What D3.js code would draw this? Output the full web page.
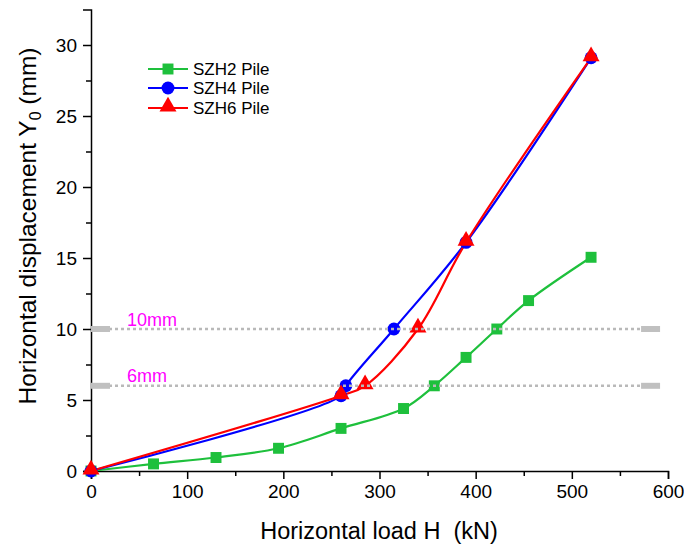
<!DOCTYPE html>
<html><head><meta charset="utf-8">
<script src="https://cdn.jsdelivr.net/npm/d3@7"></script>
<style>body{margin:0;background:#fff;}svg{display:block;font-family:"Liberation Sans",Arial,sans-serif;}</style>
</head><body><svg id="c" width="684" height="546"></svg>
<script>
const szh2Load = [0, 65, 130, 195, 260, 325, 357, 390, 422, 455, 520];
const szh2Disp = [0, 0.5, 0.95, 1.6, 3.0, 4.4, 6.0, 8.0, 10.0, 12.0, 15.05];
const szh4Load = [0, 260, 265, 315, 390, 520];
const szh4Disp = [0, 5.3, 6.0, 10.0, 16.1, 29.1];
const szh6Load = [0, 260, 285, 340, 390, 520];
const szh6Disp = [0, 5.3, 6.0, 10.0, 16.1, 29.1];
const seriesNames = ["SZH2 Pile", "SZH4 Pile", "SZH6 Pile"];
const xTicks = [0, 100, 200, 300, 400, 500, 600];
const yTicks = [0, 5, 10, 15, 20, 25, 30];
const limitValues = [10, 6];
const limitLabels = ["10mm", "6mm"];

const svg = d3.select("#c");
const x = d3.scaleLinear().domain([0, 600]).range([91, 668]);
const y = d3.scaleLinear().domain([0, 32.5]).range([471, 9.5]);

const colors = ["#1ec03c", "#0000ff", "#ff0000"];
const symbols = [d3.symbolSquare, d3.symbolCircle, d3.symbolTriangle];
const symSizes = [120, 130, 125];

// axes
const xAxis = d3.axisBottom(x).tickValues(xTicks).tickSize(8).tickPadding(6).tickFormat(d3.format("d"));
const xMinor = d3.axisBottom(x).tickValues(d3.range(50, 600, 100)).tickSize(5).tickFormat("");
const yAxis = d3.axisLeft(y).tickValues(yTicks).tickSize(8).tickPadding(6).tickFormat(d3.format("d"));
const yMinor = d3.axisLeft(y).tickValues(d3.range(2.5, 32.5, 5)).tickSize(5).tickFormat("");

function styleAxis(g){
  g.select(".domain").attr("stroke","#000").attr("stroke-width",1.5);
  g.selectAll(".tick line").attr("stroke","#000").attr("stroke-width",1.5);
  g.selectAll(".tick text").attr("fill","#000").style("font-size","19px").style("font-family","Liberation Sans, Arial, sans-serif");
}
const gx = svg.append("g").attr("transform","translate(0,471)").call(xAxis); styleAxis(gx);
const gxm = svg.append("g").attr("transform","translate(0,471)").call(xMinor); styleAxis(gxm);
gxm.select(".domain").remove();
const gy = svg.append("g").attr("transform","translate(91,0)").call(yAxis); styleAxis(gy);
const gym = svg.append("g").attr("transform","translate(91,0)").call(yMinor); styleAxis(gym);
gym.select(".domain").remove();

// axis titles
svg.append("text").attr("x", 379).attr("y", 539).attr("text-anchor","middle")
  .style("font-size","23.5px").style("white-space","pre").attr("fill","#000").text("Horizontal load H  (kN)");
const yt = svg.append("text").attr("transform","translate(36,226) rotate(-90)").attr("text-anchor","middle")
  .style("font-size","24.5px").attr("fill","#000");
yt.append("tspan").text("Horizontal displacement Y");
yt.append("tspan").attr("dy", 5).style("font-size","16px").text("0");
yt.append("tspan").attr("dy", -5).text(" (mm)");

// series
const data = [
  szh2Load.map((d,i)=>[d, szh2Disp[i]]),
  szh4Load.map((d,i)=>[d, szh4Disp[i]]),
  szh6Load.map((d,i)=>[d, szh6Disp[i]])
];
const line = d3.line().x(d=>x(d[0])).y(d=>y(d[1])).curve(d3.curveCatmullRom.alpha(0.5));
data.forEach((ser, k)=>{
  svg.append("path").attr("d", line(ser)).attr("fill","none").attr("stroke",colors[k]).attr("stroke-width",2.2);
});
data.forEach((ser, k)=>{
  svg.append("g").selectAll("path").data(ser).join("path")
    .attr("transform", d=>`translate(${x(d[0])},${y(d[1]) + (k===2?-1.5:0)})`)
    .attr("d", d3.symbol().type(symbols[k]).size(symSizes[k]))
    .attr("fill", colors[k]);
});

// limit lines
limitValues.forEach((v,i)=>{
  const yy = y(v);
  svg.append("line").attr("x1", x(0)).attr("x2", x(590)).attr("y1", yy).attr("y2", yy)
    .attr("stroke","#b9b9b9").attr("stroke-width",2.5).attr("stroke-dasharray","3,3");
  svg.append("rect").attr("x", x(0)).attr("y", yy-3).attr("width", 19).attr("height", 6).attr("fill","#c0c0c0");
  svg.append("rect").attr("x", x(572)).attr("y", yy-3).attr("width", 19).attr("height", 6).attr("fill","#c0c0c0");
  svg.append("text").attr("x", 127).attr("y", yy - (i===0?3:4) ).attr("fill","#ff00ff")
    .style("font-size","18px").text(limitLabels[i]);
});

// legend
const legY = [69, 88, 108];
seriesNames.forEach((n,k)=>{
  const g = svg.append("g");
  g.append("line").attr("x1",148).attr("x2",188).attr("y1",legY[k]).attr("y2",legY[k]).attr("stroke",colors[k]).attr("stroke-width",2.2);
  g.append("path").attr("transform",`translate(168,${legY[k] + (k===2?-1.5:0)})`).attr("d", d3.symbol().type(symbols[k]).size(symSizes[k])).attr("fill",colors[k]);
  g.append("text").attr("x",193).attr("y",legY[k]+6).style("font-size","17px").attr("fill","#000").text(n);
});
</script></body></html>
